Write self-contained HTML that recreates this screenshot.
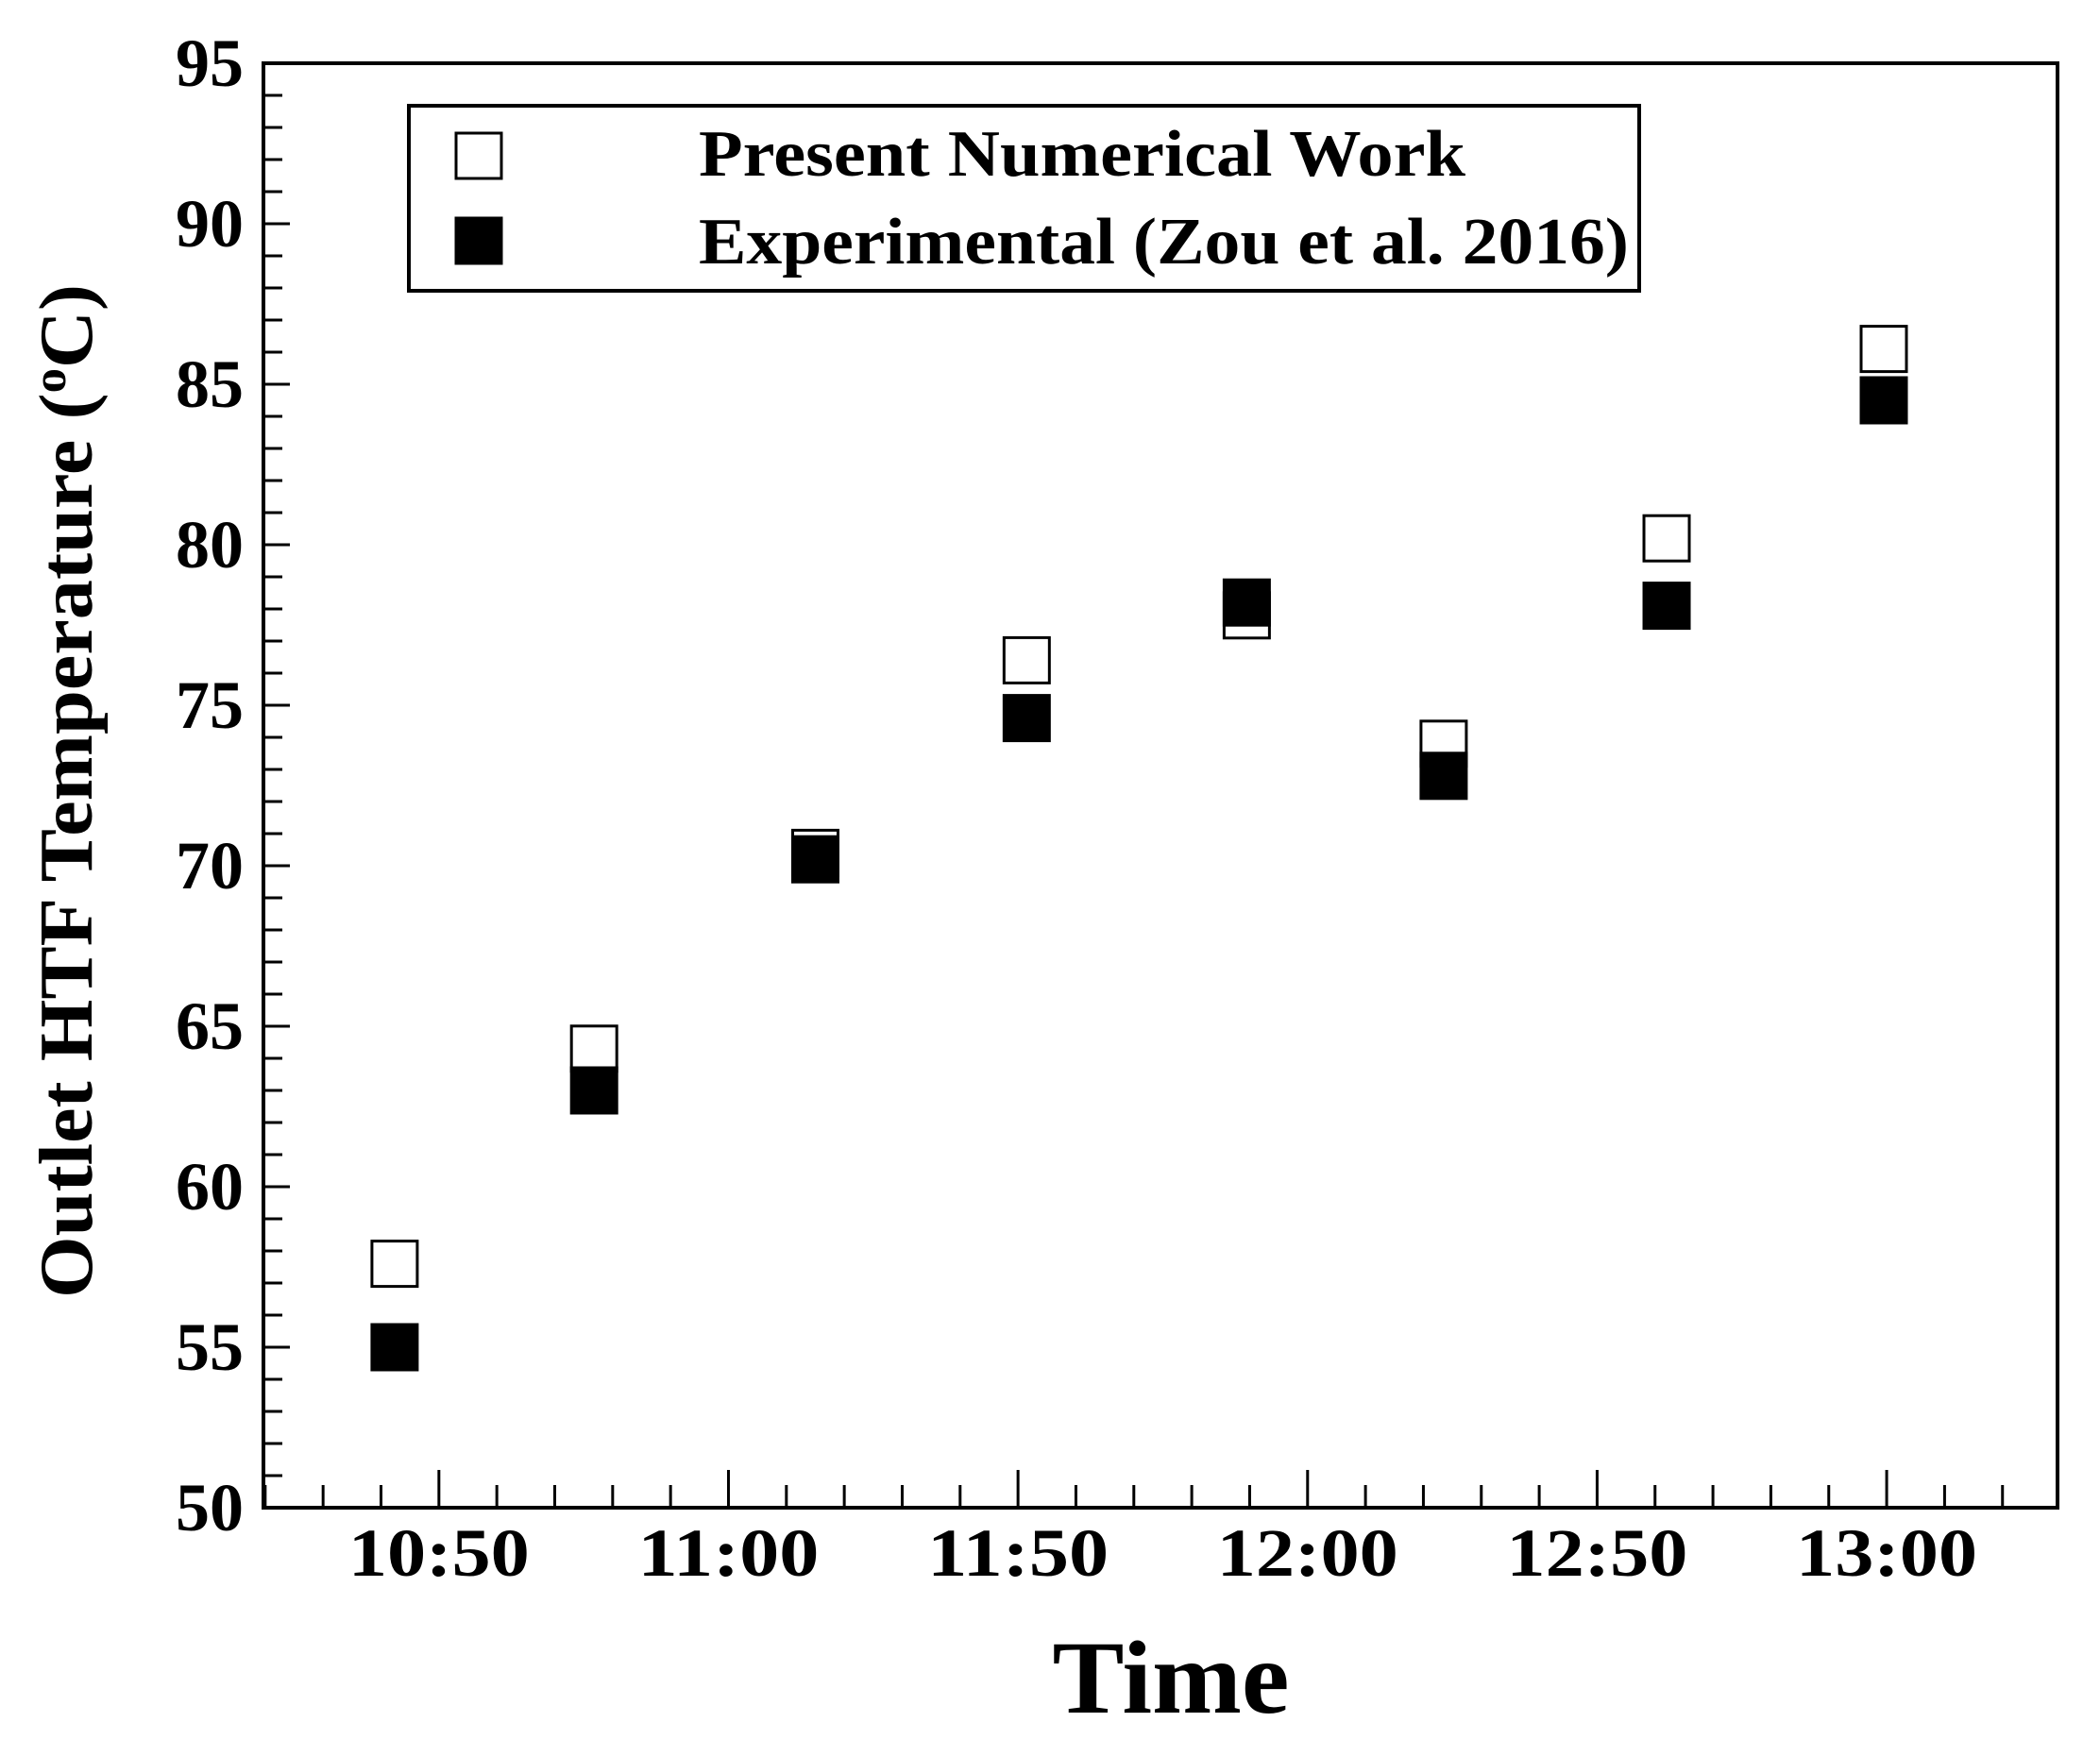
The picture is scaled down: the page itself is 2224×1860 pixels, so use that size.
<!DOCTYPE html>
<html><head><meta charset="utf-8"><style>
html,body{margin:0;padding:0;background:#fff;}
svg{display:block;}
text{font-family:"Liberation Serif",serif;font-weight:bold;fill:#000;}
</style></head><body>
<svg id="chart" width="2224" height="1860" viewBox="0 0 2224 1860" xmlns="http://www.w3.org/2000/svg">
<g id="axes"></g>
<g id="marks"></g>
<g>
<rect x="437" y="112" width="1303" height="196" fill="#fff" stroke="#000" stroke-width="4" transform="translate(-4,0)"/>
<rect x="483" y="141" width="48" height="48" fill="#fff" stroke="#000" stroke-width="3"/>
<text x="740" y="186" font-size="70" textLength="812" lengthAdjust="spacingAndGlyphs">Present Numerical Work</text>
<rect x="483" y="231" width="48" height="48" fill="#000" stroke="#000" stroke-width="3"/>
<text x="740" y="279" font-size="70" textLength="985" lengthAdjust="spacingAndGlyphs">Experimental (Zou et al. 2016)</text>
</g>
<text transform="translate(97,838) rotate(-90)" text-anchor="middle" font-size="80" textLength="1074" lengthAdjust="spacingAndGlyphs">Outlet HTF Temperature (<tspan font-size="50" dy="-28">o</tspan><tspan dy="28">C)</tspan></text>
<text x="1240" y="1814" text-anchor="middle" font-size="110" textLength="251" lengthAdjust="spacingAndGlyphs">Time</text>
</svg>
<script>
const xLabels = ["10:50","11:00","11:50","12:00","12:50","13:00"];
const xPos = [-0.153,0.536,1.30,2.03,2.79,3.47,4.24,4.99];
const numerical = [57.6,64.3,70.4,76.4,77.8,73.8,80.2,86.1];
const experimental = [55.0,63.0,70.2,74.6,78.2,72.8,78.1,84.5];
const yTicks = [50,55,60,65,70,75,80,85,90,95];

const L=279,R=2179,T=67,B=1597;
const X0=-0.606,X1=5.59,Y0=50,Y1=95;
const sx=v=>L+(v-X0)/(X1-X0)*(R-L);
const sy=v=>B-(v-Y0)/(Y1-Y0)*(B-T);
const NS="http://www.w3.org/2000/svg";
const axes=document.getElementById('axes');
const marks=document.getElementById('marks');
function mk(tag,attrs,parent){const e=document.createElementNS(NS,tag);for(const k in attrs)e.setAttribute(k,attrs[k]);parent.appendChild(e);return e;}

const frame=mk('rect',{x:L,y:T,width:R-L,height:B-T,fill:'none',stroke:'#000','stroke-width':4},axes);



for(let v=Y0;v<=Y1;v+=1){
  const major=(v%5===0);
  const y=sy(v);
  const t=mk('line',{x1:L,x2:L+(major?28:20),y1:y,y2:y,stroke:'#000','stroke-width':3},axes);
  
  
}
yTicks.forEach(v=>{
  const t=mk('text',{x:258,y:sy(v)+24,'text-anchor':'end','font-size':72},axes);
  t.textContent=v;
  
  
});
for(let i=Math.ceil(X0/0.2);i*0.2<=X1;i++){
  const v=i*0.2;
  const major=(i%5===0);
  const x=sx(v);
  const t=mk('line',{x1:x,x2:x,y1:B,y2:B-(major?40:24),stroke:'#000','stroke-width':3},axes);
  
  
}
xLabels.forEach((lab,i)=>{
  const t=mk('text',{x:sx(i),y:1669,'text-anchor':'middle','font-size':72,textLength:192,lengthAdjust:'spacingAndGlyphs'},axes);
  t.textContent=lab;
  
  
});
const S=48;
numerical.forEach((v,i)=>{
  const r=mk('rect',{x:sx(xPos[i])-S/2,y:sy(v)-S/2,width:S,height:S,fill:'#fff',stroke:'#000','stroke-width':3},marks);
  
  
});
experimental.forEach((v,i)=>{
  const r=mk('rect',{x:sx(xPos[i])-S/2,y:sy(v)-S/2,width:S,height:S,fill:'#000',stroke:'#000','stroke-width':3},marks);
  
  
});
</script>
</body></html>
